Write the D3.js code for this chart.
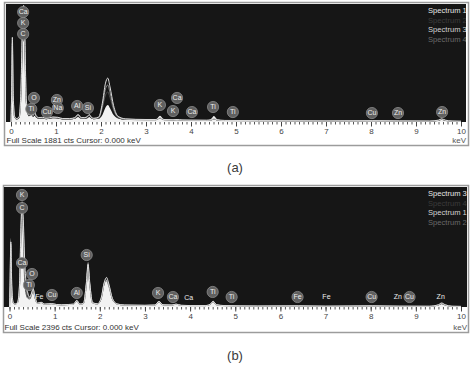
<!DOCTYPE html>
<html>
<head>
<meta charset="utf-8">
<script src="https://cdn.jsdelivr.net/npm/d3@7"></script>
<style>
  html, body { margin: 0; padding: 0; background: #fff; }
  svg { display: block; font-family: "Liberation Sans", Arial, sans-serif; }
</style>
</head>
<body>
<div id="chart"></div>
<script>
const width = 471;
const height = 365;

// energy grid shared by every spectrum (keV)
const energyKeV = [
  0, 0.01, 0.03, 0.05, 0.08, 0.12, 0.18, 0.22,
  0.26, 0.28, 0.30, 0.34, 0.40, 0.45, 0.49, 0.525,
  0.56, 0.62, 0.70, 0.78, 0.93, 1.04, 1.15, 1.30,
  1.42, 1.49, 1.56, 1.64, 1.70, 1.74, 1.78, 1.84,
  1.95, 2.03, 2.10, 2.15, 2.20, 2.28, 2.38, 2.55,
  3.0, 3.22, 3.31, 3.40, 3.60, 3.69, 3.80, 4.0,
  4.35, 4.45, 4.51, 4.58, 4.75, 5.5, 6.4, 7.0,
  8.04, 8.63, 9.3, 9.5, 9.57, 9.65, 9.8, 10
];

// (a) counts
const spectrumA1 = [
  0, 250, 1100, 350, 70, 40, 60, 300,
  1200, 1310, 1150, 250, 90, 110, 80, 100,
  70, 50, 55, 45, 60, 55, 40, 40,
  50, 80, 50, 50, 60, 80, 60, 45,
  50, 110, 230, 270, 220, 110, 55, 35,
  30, 35, 100, 40, 35, 45, 30, 30,
  25, 50, 95, 45, 25, 20, 18, 15,
  20, 15, 12, 20, 40, 20, 12, 10
];
const spectrumA2 = [
  0, 260, 1150, 380, 80, 48, 70, 420,
  1400, 1560, 1350, 300, 100, 130, 95, 130,
  85, 60, 65, 50, 70, 65, 48, 48,
  60, 100, 60, 60, 80, 100, 70, 52,
  65, 220, 430, 480, 390, 190, 70, 42,
  36, 36, 60, 36, 32, 36, 29, 27,
  25, 30, 48, 30, 23, 19, 17, 15,
  19, 15, 13, 24, 42, 24, 13, 10
];
const spectrumA3 = [
  0, 300, 1350, 420, 90, 55, 80, 500,
  1700, 1860, 1600, 350, 120, 150, 110, 160,
  100, 70, 75, 60, 80, 75, 55, 55,
  70, 120, 70, 70, 90, 120, 80, 60,
  80, 300, 620, 700, 560, 260, 90, 50,
  40, 40, 70, 40, 35, 40, 32, 30,
  28, 35, 55, 35, 25, 22, 20, 18,
  22, 18, 15, 30, 50, 30, 15, 12
];
const spectrumA4 = [
  0, 280, 1250, 400, 85, 50, 75, 450,
  1550, 1700, 1480, 320, 110, 140, 100, 140,
  90, 65, 70, 55, 75, 70, 50, 50,
  65, 110, 65, 65, 85, 110, 75, 55,
  70, 260, 530, 590, 470, 220, 80, 45,
  38, 38, 65, 38, 33, 38, 30, 28,
  26, 32, 50, 32, 24, 20, 18, 16,
  20, 16, 14, 26, 45, 26, 14, 11
];

// (b) counts
const spectrumB3 = [
  0, 400, 1380, 450, 100, 60, 100, 400,
  1750, 2050, 1800, 500, 200, 180, 300, 400,
  240, 80, 100, 60, 70, 50, 45, 50,
  60, 140, 60, 80, 500, 900, 500, 90,
  60, 150, 450, 540, 420, 150, 60, 40,
  35, 40, 120, 45, 40, 60, 35, 30,
  30, 60, 120, 50, 30, 20, 25, 18,
  25, 18, 15, 40, 70, 40, 15, 12
];
const spectrumB4 = [
  0, 350, 1200, 400, 90, 55, 90, 380,
  1600, 1850, 1650, 450, 180, 160, 250, 330,
  200, 70, 90, 55, 65, 48, 42, 48,
  55, 120, 55, 70, 420, 760, 420, 80,
  60, 170, 480, 560, 440, 160, 60, 38,
  33, 38, 100, 42, 38, 55, 33, 28,
  28, 55, 110, 45, 28, 19, 22, 16,
  22, 16, 14, 38, 65, 38, 14, 11
];
const spectrumB1 = [
  0, 380, 1300, 420, 95, 58, 95, 420,
  1800, 2100, 1850, 850, 300, 200, 280, 360,
  220, 75, 95, 58, 68, 50, 44, 50,
  58, 130, 58, 75, 460, 850, 460, 85,
  65, 180, 500, 590, 460, 170, 62, 40,
  34, 40, 110, 44, 40, 58, 34, 29,
  29, 58, 115, 48, 29, 20, 24, 17,
  24, 17, 15, 45, 80, 45, 15, 12
];
const spectrumB2 = [
  0, 360, 1250, 410, 92, 56, 92, 400,
  1650, 1950, 1700, 600, 250, 190, 270, 350,
  210, 72, 92, 56, 66, 49, 43, 49,
  56, 125, 56, 72, 440, 800, 440, 82,
  62, 160, 470, 520, 410, 155, 60, 39,
  33, 39, 105, 43, 39, 56, 33, 28,
  28, 56, 112, 46, 28, 19, 23, 16,
  23, 16, 14, 40, 72, 40, 14, 11
];

const legendA = ["Spectrum 1", "Spectrum 2", "Spectrum 3", "Spectrum 4"];
const legendB = ["Spectrum 3", "Spectrum 4", "Spectrum 1", "Spectrum 2"];

// element markers: symbol, energy, height in counts
const labelElementsA = ["Ca", "K", "C", "O", "Ti", "Cu", "Zn", "Na", "Al", "Si", "K", "Ca", "K", "Ca", "Ti", "Ti", "Cu", "Zn", "Zn"];
const labelKeVA = [0.27, 0.27, 0.27, 0.51, 0.45, 0.80, 1.02, 1.04, 1.47, 1.71, 3.31, 3.69, 3.60, 4.02, 4.49, 4.93, 8.02, 8.60, 9.58];
const labelCountsA = [1753, 1578, 1403, 383, 207, 159, 351, 223, 255, 223, 271, 383, 175, 159, 239, 159, 143, 143, 159];

const labelElementsB = ["K", "C", "Ca", "O", "Ti", "Fe", "Cu", "Al", "Si", "K", "Ca", "Ca", "Ti", "Ti", "Fe", "Fe", "Cu", "Zn", "Cu", "Zn"];
const labelKeVB = [0.277, 0.277, 0.277, 0.50, 0.43, 0.66, 0.94, 1.49, 1.71, 3.29, 3.62, 3.97, 4.50, 4.92, 6.38, 7.02, 8.02, 8.60, 8.86, 9.55];
const labelCountsB = [2237, 1977, 879, 659, 439, 200, 240, 280, 1038, 280, 200, 180, 300, 200, 200, 200, 200, 200, 200, 200];
const labelCircledB = [1, 1, 1, 1, 1, 0, 1, 1, 1, 1, 1, 0, 1, 1, 1, 0, 1, 0, 1, 0];

const svg = d3.select("#chart").append("svg")
  .attr("width", width)
  .attr("height", height);

function drawPanel(p) {
  const g = svg.append("g");

  // window frame + axis strip
  g.append("rect")
    .attr("x", p.fx + 0.5).attr("y", p.fy + 0.5)
    .attr("width", p.fw).attr("height", p.fh)
    .attr("fill", "#fff").attr("stroke", "#9c9c9c").attr("stroke-width", 1.5);

  g.append("rect")
    .attr("x", p.left).attr("y", p.top)
    .attr("width", p.right - p.left).attr("height", p.base - p.top)
    .attr("fill", "#161616");

  const clipId = "clip-" + p.id;
  svg.append("clipPath").attr("id", clipId)
    .append("rect")
    .attr("x", p.left).attr("y", p.top)
    .attr("width", p.right - p.left).attr("height", p.base - p.top);

  const x = d3.scaleLinear().domain([0, 10]).range([p.x0, p.x10]);
  const y = d3.scaleLinear().domain([0, p.fullScale]).range([p.base, p.top]);

  const plot = g.append("g").attr("clip-path", `url(#${clipId})`);

  const area = d3.area()
    .x((d, i) => x(energyKeV[i]))
    .y0(p.base)
    .y1(d => y(d))
    .curve(d3.curveMonotoneX);

  const line = d3.line()
    .x((d, i) => x(energyKeV[i]))
    .y(d => y(d))
    .curve(d3.curveMonotoneX);

  plot.append("path")
    .attr("d", area(p.filled))
    .attr("fill", "#f2f2f2");

  p.outlines.forEach(o => {
    plot.append("path")
      .attr("d", line(o.values))
      .attr("fill", "none")
      .attr("stroke", o.color)
      .attr("stroke-width", 1);
  });

  // element markers
  const marks = plot.selectAll(".mark")
    .data(p.labels)
    .enter().append("g")
    .attr("transform", d => `translate(${x(d.e)},${y(d.c)})`);

  marks.filter(d => d.circled)
    .append("circle")
    .attr("r", 5.6)
    .attr("fill", "#606060")
    .attr("stroke", "#8c8c8c")
    .attr("stroke-width", 0.8);

  marks.append("text")
    .attr("text-anchor", "middle")
    .attr("dy", "0.35em")
    .attr("font-size", 7)
    .attr("fill", "#ececec")
    .text(d => d.el);

  // legend
  plot.selectAll(".leg")
    .data(p.legend)
    .enter().append("text")
    .attr("x", 428)
    .attr("y", (d, i) => p.top + 9 + i * 9.5)
    .attr("font-size", 7.6)
    .attr("fill", (d, i) => p.legendColors[i])
    .text(d => d);

  // x axis: minor and major ticks
  const minor = d3.axisBottom(x)
    .tickValues(d3.range(0, 101).map(i => i / 10))
    .tickSize(2.5)
    .tickFormat("");
  g.append("g").attr("transform", `translate(0,${p.base})`).call(minor)
    .call(a => a.select(".domain").remove())
    .call(a => a.selectAll("line").attr("stroke", "#555"));

  const major = d3.axisBottom(x).ticks(10).tickSize(4.5).tickPadding(2);
  g.append("g").attr("transform", `translate(0,${p.base})`).call(major)
    .call(a => a.select(".domain").remove())
    .call(a => a.selectAll("line").attr("stroke", "#444"))
    .call(a => a.selectAll("text")
      .attr("font-size", 8)
      .attr("fill", "#444")
      .attr("font-family", "'Liberation Sans', Arial, sans-serif"));

  g.append("text")
    .attr("x", p.left + 0.5).attr("y", p.footY)
    .attr("font-size", 8).attr("fill", "#333")
    .text(`Full Scale ${p.fullScale} cts  Cursor: 0.000 keV`);

  g.append("text")
    .attr("x", p.right).attr("y", p.footY)
    .attr("text-anchor", "end")
    .attr("font-size", 8).attr("fill", "#555")
    .text("keV");

  svg.append("text")
    .attr("x", 235).attr("y", p.capY)
    .attr("text-anchor", "middle")
    .attr("font-size", 13).attr("fill", "#3a3a3a")
    .text(p.caption);
}

function toLabels(els, kev, counts, circled) {
  return els.map((el, i) => ({ el, e: kev[i], c: counts[i], circled: circled ? circled[i] : 1 }));
}

drawPanel({
  id: "a", caption: "(a)", fullScale: 1881,
  fx: 4, fy: 2, fw: 464, fh: 143,
  left: 6, right: 466, top: 4, base: 122,
  x0: 11, x10: 461, footY: 143, capY: 172,
  filled: spectrumA1,
  outlines: [
    { values: spectrumA2, color: "#4a4a4a" },
    { values: spectrumA4, color: "#8e8e8e" },
    { values: spectrumA3, color: "#dcdcdc" }
  ],
  legend: legendA,
  legendColors: ["#e6e6e6", "#3c3c3c", "#d4d4d4", "#6a6a6a"],
  labels: toLabels(labelElementsA, labelKeVA, labelCountsA)
});

drawPanel({
  id: "b", caption: "(b)", fullScale: 2396,
  fx: 3, fy: 185, fw: 465, fh: 147,
  left: 4, right: 467, top: 187, base: 307,
  x0: 9.5, x10: 461, footY: 330, capY: 360,
  filled: spectrumB3,
  outlines: [
    { values: spectrumB4, color: "#4a4a4a" },
    { values: spectrumB2, color: "#8e8e8e" },
    { values: spectrumB1, color: "#dcdcdc" }
  ],
  legend: legendB,
  legendColors: ["#e6e6e6", "#3c3c3c", "#d4d4d4", "#6a6a6a"],
  labels: toLabels(labelElementsB, labelKeVB, labelCountsB, labelCircledB)
});
</script>
</body>
</html>
